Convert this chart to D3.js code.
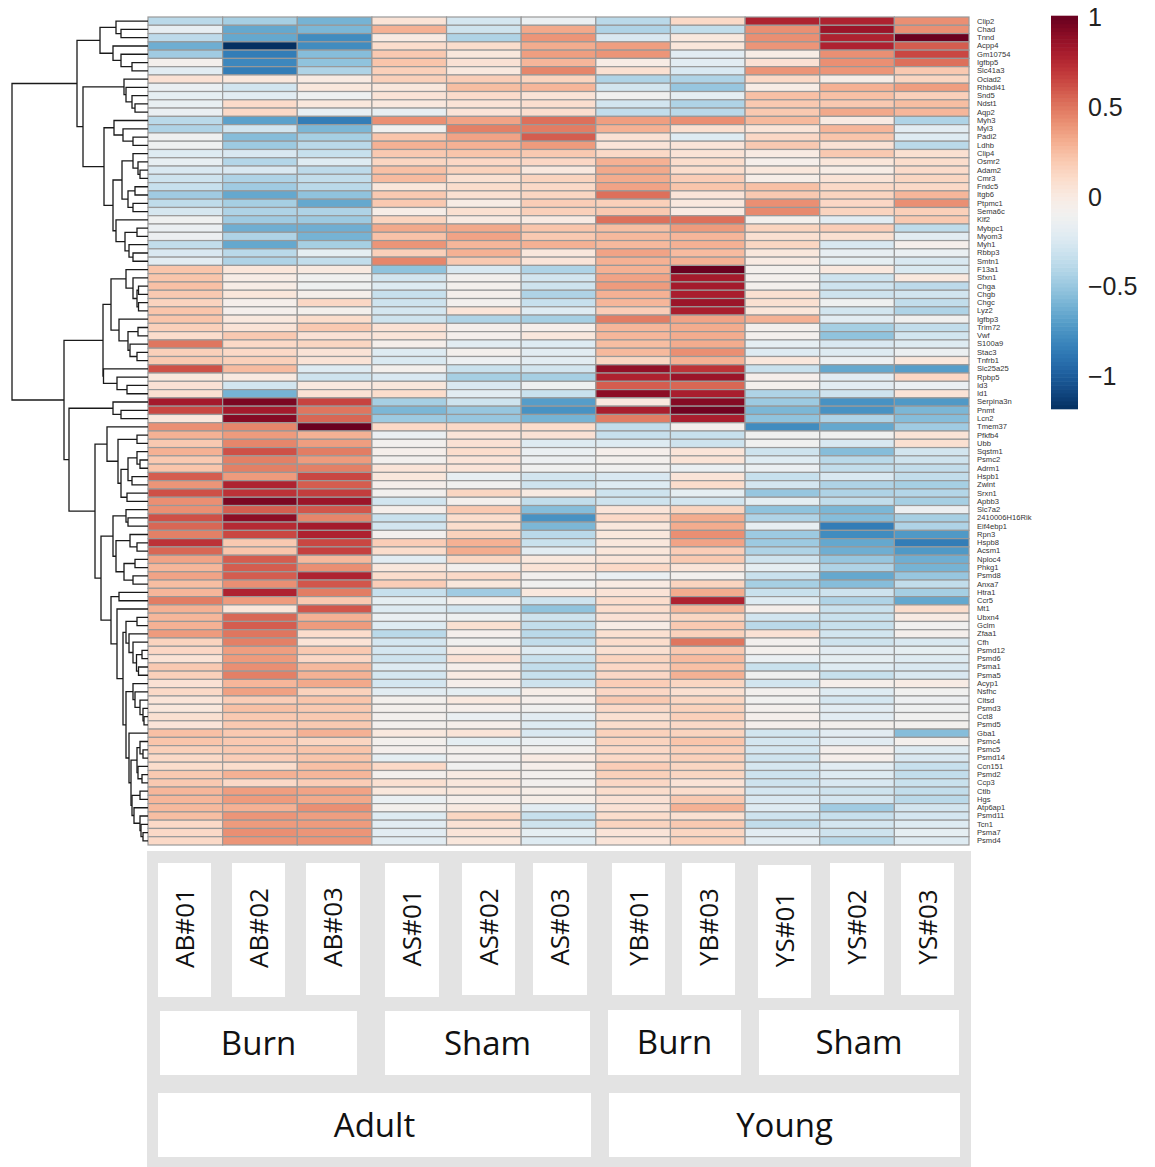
<!DOCTYPE html>
<html>
<head>
<meta charset="utf-8">
<script src="https://cdn.jsdelivr.net/npm/d3@7"></script>
<style>
  body { margin: 0; background: #fff; }
</style>
</head>
<body>
<div id="chart"></div>
<script>
var samples = ["AB#01","AB#02","AB#03","AS#01","AS#02","AS#03","YB#01","YB#03","YS#01","YS#02","YS#03"];

var genes = ["Clip2","Chad","Tnnd","Acpp4","Gm10754","Igfbp5","Slc41a3","Ociad2","Rhbdl41","Snd5",
  "Ndst1","Aqp2","Myh3","Myl3","Padi2","Ldhb","Clip4","Osmr2","Adam2","Cmr3",
  "Fndc5","Itgb6","Ptpmc1","Sema6c","Klf2","Mybpc1","Myom3","Myh1","Rbbp3","Smtn1",
  "F13a1","Sfxn1","Chga","Chgb","Chgc","Lyz2","Igfbp3","Trim72","Vwf","S100a9",
  "Stac3","Tnfrb1","Slc25a25","Rpbp5","Id3","Id1","Serpina3n","Pnmt","Lcn2","Tmem37",
  "Pfkfb4","Ubb","Sqstm1","Psmc2","Adrm1","Hspb1","Zwint","Srxn1","Apbb3","Slc7a2",
  "2410006H16Rik","Eif4ebp1","Rpn3","Hspb8","Acsm1","Nploc4","Phkg1","Psmd8","Anxa7","Htra1",
  "Ccr5","Mt1","Ubxn4","Gclm","Zfaa1","Cfh","Psmd12","Psmd6","Psma1","Psma5",
  "Acyp1","Nsfhc","Cltsd","Psmd3","Cct8","Psmd5","Gba1","Psmc4","Psmc5","Psmd14",
  "Ccn151","Psmd2","Ccp3","Ctlb","Hgs","Atp6ap1","Psmd11","Tcn1","Psma7","Psmd4"];

// one row per gene, one column per sample
var rowValues = [
  [-0.38,-0.45,-0.6,0.06,-0.27,-0.15,-0.38,0.12,0.78,0.78,0.42],
  [-0.17,-0.65,-0.58,0.3,-0.3,0.33,-0.42,-0.35,0.42,0.85,0.42],
  [-0.37,-0.65,-0.78,0,-0.42,0.4,-0.25,0.02,0.42,0.78,1],
  [-0.62,-1.18,-0.78,0.1,0.1,0.32,0.37,0.04,0.4,0.78,0.58],
  [-0.47,-0.85,-0.55,0.2,0.03,0.37,0.4,-0.2,-0.02,0.42,0.65],
  [-0.07,-0.8,-0.52,0.22,0.07,0.28,-0.02,-0.2,0.07,0.42,0.52],
  [-0.2,-0.85,-0.42,0.17,0.02,0.45,0.08,-0.25,0.4,0.4,0.2],
  [0.07,0.03,0,0.17,0.18,0.15,-0.42,-0.42,0.12,-0.03,0.14],
  [-0.15,-0.28,0.03,0.03,0.25,0.28,-0.28,-0.5,-0.02,0.3,0.37],
  [-0.18,-0.2,-0.12,0.06,0.11,0.06,-0.1,-0.18,0.24,0.24,0.17],
  [-0.16,0.11,0.03,0.02,0.06,0.09,-0.28,-0.42,0.2,0.2,0.25],
  [-0.15,0.12,-0.17,-0.17,0.05,0.09,-0.35,-0.38,0.2,0.33,0.28],
  [-0.38,-0.68,-0.85,0.42,0.35,0.52,0.37,0.42,0.27,0,-0.42],
  [-0.42,-0.28,-0.58,-0.1,0.47,0.48,0.3,0.08,0.05,0.28,-0.2],
  [-0.12,-0.55,-0.45,0.22,0.35,0.58,0.07,-0.22,0.13,0.22,-0.22],
  [-0.12,-0.48,-0.38,0.3,0.3,0.38,0.05,0.05,0.2,0.07,-0.38],
  [-0.22,-0.25,-0.33,0.2,0.22,0.2,0.12,0.06,0,0.2,0.08],
  [-0.17,-0.4,-0.22,0.14,0.13,0.13,0.3,0.1,-0.05,0.04,0.1],
  [-0.25,-0.25,-0.37,0.24,0.16,0.02,0.33,0.1,0.03,-0.02,0.11],
  [-0.3,-0.42,-0.35,0.26,0.08,0.15,0.32,0.18,-0.03,0.06,0.14],
  [-0.33,-0.47,-0.38,0.04,0.1,0.12,0.35,0.22,0.24,0.12,0.12],
  [-0.47,-0.65,-0.52,0.2,0.08,0.14,0.52,0.05,0.2,0.15,0.28],
  [-0.36,-0.45,-0.65,0.2,-0.02,0.18,0.17,0.02,0.42,0.13,0.42],
  [-0.26,-0.42,-0.42,-0.03,0.08,0.17,0.2,0,0.44,0.15,0.17],
  [-0.12,-0.47,-0.48,0.15,0,0,0.52,0.52,-0.07,-0.2,0.2],
  [-0.15,-0.62,-0.62,0.33,0.33,0.22,0.25,0.38,0.15,0.18,-0.36],
  [-0.13,-0.42,-0.6,0.23,0.35,0.2,0.27,0.28,0.08,0.08,-0.2],
  [-0.35,-0.65,-0.45,0.4,0.28,0.3,0.27,0.3,0.14,-0.25,-0.05],
  [-0.25,-0.38,-0.18,0.17,0.3,0.03,0.35,0.26,0.03,-0.17,-0.15],
  [-0.2,-0.42,-0.35,0.45,0.2,0.05,0.3,0.3,0,-0.18,-0.25],
  [0.22,0.04,0.01,-0.52,-0.25,-0.42,0.3,1,-0.07,0.02,-0.24],
  [0.22,-0.02,-0.1,-0.28,-0.08,-0.28,0.35,0.82,-0.07,-0.3,0.02],
  [0.24,-0.02,-0.12,-0.22,-0.07,-0.3,0.38,0.82,-0.07,-0.3,-0.37],
  [0.2,0.04,-0.05,-0.33,-0.06,-0.42,0.3,0.8,0.08,-0.3,-0.28],
  [0.15,-0.05,0.13,-0.3,-0.08,-0.33,0.28,0.85,0.08,-0.12,-0.35],
  [0.22,-0.06,-0.07,-0.27,0.05,-0.22,0.18,0.8,0.04,-0.28,-0.42],
  [0.22,0.02,0.1,-0.3,-0.42,-0.45,0.48,0.35,0.3,-0.2,-0.1],
  [0.17,0.06,0.2,0.07,-0.06,-0.05,0.28,0.32,-0.07,-0.45,-0.35],
  [0.1,0.2,0.07,0.05,-0.06,0.03,0.28,0.32,-0.07,-0.52,-0.28],
  [0.5,0.12,0.14,-0.05,-0.2,-0.22,0.25,0.32,-0.18,-0.25,-0.22],
  [0.17,0.12,0.06,-0.22,-0.07,-0.2,0.27,0.42,-0.22,-0.22,-0.14],
  [0.2,0.17,0.06,-0.24,-0.13,-0.2,0.14,0.3,0.03,-0.13,0.03],
  [0.62,0.26,-0.22,-0.07,-0.32,-0.28,0.88,0.72,-0.32,-0.65,-0.7],
  [0.03,0.01,-0.3,-0.25,-0.45,-0.45,0.78,0.85,-0.05,-0.2,0.13],
  [0.07,-0.28,0.02,0.03,-0.25,-0.12,0.58,0.55,-0.07,-0.2,-0.15],
  [0.08,-0.6,0.07,0.1,-0.2,-0.32,0.9,0.8,-0.42,-0.3,0.06],
  [0.82,0.95,0.66,-0.45,-0.3,-0.7,0.02,0.92,-0.48,-0.75,-0.72],
  [0.65,0.82,0.5,-0.58,-0.5,-0.75,0.8,0.98,-0.58,-0.75,-0.58],
  [0.03,0.92,0.55,-0.48,-0.5,-0.6,0.48,0.8,-0.52,-0.42,-0.55],
  [0.42,0.45,1,0.12,0.12,0.1,-0.35,-0.07,-0.78,-0.65,-0.47],
  [0.3,0.38,0.3,-0.15,0.05,0.07,-0.33,-0.33,-0.1,-0.1,0.06],
  [0.2,0.45,0.37,-0.08,0.07,-0.22,-0.22,-0.3,-0.1,-0.25,0.08],
  [0.3,0.62,0.48,-0.05,0.1,-0.15,-0.05,0.05,-0.3,-0.55,-0.28],
  [0.2,0.47,0.38,-0.08,0.05,-0.13,-0.07,0.06,-0.22,-0.38,-0.3],
  [0.22,0.47,0.47,0.05,0.05,-0.1,-0.1,-0.15,-0.15,-0.35,-0.35],
  [0.58,0.38,0.65,0.03,-0.17,-0.28,-0.25,0.05,-0.33,-0.25,-0.35],
  [0.4,0.78,0.58,-0.05,-0.1,-0.3,-0.22,0.1,-0.27,-0.42,-0.45],
  [0.62,0.72,0.68,-0.08,0.14,0,-0.3,-0.18,-0.5,-0.42,-0.4],
  [0.42,0.95,0.85,-0.28,-0.07,-0.35,-0.3,-0.28,-0.18,-0.35,-0.45],
  [0.42,0.58,0.6,-0.05,0.2,-0.55,0.05,0.15,-0.52,-0.58,-0.13],
  [0.62,0.9,0.45,-0.32,0.1,-0.75,0.12,0.32,-0.42,-0.55,-0.45],
  [0.55,0.75,0.82,-0.28,0.1,-0.58,0.03,0.32,-0.17,-0.85,-0.42],
  [0.47,0.65,0.78,-0.08,0.16,-0.38,0.03,0.42,-0.48,-0.78,-0.72],
  [0.72,0.2,0.65,0.18,0.3,-0.32,0.03,0.35,-0.48,-0.65,-0.85],
  [0.55,0.22,0.67,0.1,0.32,-0.2,0.04,0.18,-0.42,-0.62,-0.72],
  [0.35,0.58,0.27,-0.2,0.14,0.02,0.05,0.2,-0.3,-0.5,-0.62],
  [0.28,0.58,0.42,0.03,-0.08,0.06,0.12,0.05,-0.18,-0.42,-0.6],
  [0.35,0.58,0.78,0.1,0.12,-0.08,-0.15,-0.08,-0.32,-0.65,-0.5],
  [0.25,0.42,0.6,0.18,0.03,-0.1,0,0.15,-0.45,-0.55,-0.35],
  [0.28,0.78,0.48,-0.33,-0.47,0.02,0.06,0.32,-0.32,-0.3,-0.45],
  [0.48,0.38,0.2,-0.18,-0.07,-0.3,0.1,0.78,-0.22,-0.42,-0.65],
  [0.3,0.04,0.6,-0.22,-0.28,-0.52,0.1,0.27,-0.05,-0.32,0.1],
  [0.28,0.55,0.3,-0.15,-0.12,-0.3,0.07,0.14,-0.28,-0.32,0],
  [0.3,0.58,0.38,-0.22,0.08,-0.35,-0.02,0.2,-0.38,-0.33,-0.1],
  [0.38,0.5,0.1,-0.38,-0.06,-0.38,0.08,0.16,0.07,-0.28,-0.06],
  [0.15,0.47,0.06,-0.27,-0.1,-0.35,0.1,0.5,-0.08,-0.3,-0.25],
  [0.13,0.37,0.2,-0.27,0,-0.22,0.08,0.2,-0.07,-0.2,-0.18],
  [0.06,0.38,0.13,-0.3,0.07,-0.32,0.15,0.26,-0.15,-0.18,-0.22],
  [0.2,0.42,0.27,-0.22,-0.05,-0.35,0.13,0.24,-0.32,-0.22,-0.25],
  [0.17,0.47,0.3,-0.27,0,-0.33,0.13,0.3,-0.1,-0.33,-0.25],
  [0.07,0.28,0.33,-0.27,-0.05,-0.3,0.18,0.14,-0.28,-0.05,-0.01],
  [0.12,0.36,0.16,-0.2,-0.18,-0.03,0.13,0.08,-0.08,-0.22,-0.1],
  [0.05,0.18,0.22,-0.07,0.02,-0.05,0.2,0.14,-0.1,-0.27,-0.13],
  [0.03,0.24,0.2,-0.07,-0.05,-0.1,0.12,0.16,-0.07,-0.2,-0.12],
  [0.08,0.2,0.2,-0.08,-0.15,-0.2,0.08,0.17,-0.06,-0.2,-0.1],
  [0.05,0.2,0.2,-0.07,-0.05,-0.22,0.1,0.12,-0.06,-0.07,-0.08],
  [0.24,0.2,0.3,0.02,0.05,-0.25,0.16,0.15,-0.28,-0.2,-0.55],
  [0.22,0.2,0.14,-0.07,-0.18,-0.15,0.15,0.22,-0.27,-0.2,-0.07],
  [0.17,0.2,0.22,-0.06,-0.07,-0.08,0.12,0.17,-0.27,-0.06,-0.22],
  [0.12,0.18,0.22,-0.18,-0.08,0,0.12,0.17,-0.3,-0.05,-0.25],
  [0.1,0.1,0.24,0.12,-0.1,-0.05,0.18,0.14,-0.26,-0.2,-0.33],
  [0.2,0.3,0.28,-0.07,0,-0.08,0.17,0.14,-0.3,-0.22,-0.35],
  [0.2,0.12,0.18,0.08,0.03,-0.08,0.13,0.06,-0.3,-0.25,-0.32],
  [0.28,0.37,0.35,0.03,0.03,-0.03,0.1,0.1,-0.27,-0.3,-0.35],
  [0.28,0.38,0.33,-0.15,-0.05,-0.03,0.07,0.2,-0.25,-0.27,-0.38],
  [0.27,0.3,0.42,-0.07,0.01,-0.2,0.07,0.3,-0.22,-0.47,-0.28],
  [0.25,0.4,0.37,-0.22,0.14,-0.33,0.1,0.08,-0.3,-0.33,-0.27],
  [0.12,0.38,0.38,-0.2,0.07,-0.3,0.15,0.2,-0.35,-0.27,-0.22],
  [0.12,0.42,0.4,-0.2,0.05,-0.18,0.05,0.14,-0.2,-0.3,-0.18],
  [0.12,0.4,0.4,-0.2,0.03,-0.22,0.05,0.16,-0.2,-0.38,-0.22]
];

// row clustering as [merge height, child, child], a bare number is a row index
var rowTree = [136,
  [71,
    [48, [32, 0, [27, 1, 2]], [35, 3, [27, 4, [16, 5, 6]]]],
    [65,
      [24, 7, [22, 8, [16, 9, [13, 10, 11]]]],
      [44,
        [34, 12, [25, 13, [15, 14, 15]]],
        [35,
          [26, [15, 16, [10, 17, [8, 18, 19]]], [20, [13, 20, 21], [15, 22, 23]]],
          [32, 24, [23, [11, 25, 26], [19, 27, [15, 28, 29]]]]
        ]
      ]
    ]
  ],
  [84,
    [45,
      [37,
        [22, 30, [15, 31, [11, [9.5, 32, 33], [9.5, 34, 35]]]],
        [29, 36, [20, [10, 37, 38], [18, 39, [11, 40, 41]]]]
      ],
      [44.5, 42, [31, 43, [21, 44, 45]]]
    ],
    [79,
      [35, 46, [27, 47, 48]],
      [53,
        [41, 49, [30, [11, 50, 51], [27, [20, [11, 52, [8, 53, 54]], [16, 55, 56]], [21, 57, 58]]]],
        [47,
          [35,
            [22, 59, [20, 60, 61]],
            [32, [18, 62, [11, 63, 64]], [24, [13, 65, 66], [15, 67, 68]]]
          ],
          [37,
            [29, 69, 70],
            [31, 71, [25,
              [22, [11, 72, 73], [19, 74, [15, 75, [11.5, [6, 76, 77], [9.5, 78, 79]]]]],
              [22,
                [15, 80, [13, 81, [8, 82, [5, 83, [4, 84, 85]]]]],
                [19, 86, [17,
                  [11, [8, 87, [5, 88, 89]], [10, 90, [6, 91, 92]]],
                  [16, [8, 93, 94], [14, 95, [8, 96, [7, 97, [5, 98, 99]]]]]
                ]]
              ]
            ]]
          ]
        ]
      ]
    ]
  ]
];

var legendTicks = [-1, -0.5, 0, 0.5, 1];

// the hand placed boxes under the heatmap
var sampleBoxes = [[158,863,53,134],[232,863,53,134],[306,863,54,132],[385,863,54,134],[462,863,53,132],
  [533,863,54,132],[612,863,53,132],[682,863,53,132],[758,865,53,133],[830,863,54,132],[901,863,53,132]];
var conditionLabels = ["Burn","Sham","Burn","Sham"];
var conditionBoxes = [[160,1011,197,64],[385,1011,205,64],[608,1010,133,65],[759,1010,200,65]];
var ageLabels = ["Adult","Young"];
var ageBoxes = [[158,1093,433,64],[609,1093,351,64]];

var width = 1155, height = 1167;

var svg = d3.select("#chart")
  .append("svg")
    .attr("width", width)
    .attr("height", height)
    .style("display", "block");

var x = d3.scaleBand().domain(samples).range([148, 969]);
var y = d3.scaleBand().domain(d3.range(genes.length)).range([17, 845]);
var legendY = d3.scaleLinear().domain([-1.18, 1.01]).range([409, 16]);
var color = d3.scaleSequential(function(t) { return d3.interpolateRdBu(1 - t); }).domain(legendY.domain());
var treeX = d3.scaleLinear().domain([0, 136]).range([148, 12]);

// heatmap cells
var rows = svg.append("g")
  .selectAll("g")
  .data(rowValues)
  .join("g");

rows.selectAll("rect")
  .data(function(d, i) {
    return d.map(function(v, j) { return {row: i, sample: samples[j], value: v}; });
  })
  .join("rect")
    .attr("x", function(d) { return x(d.sample); })
    .attr("y", function(d) { return y(d.row); })
    .attr("width", x.bandwidth())
    .attr("height", y.bandwidth())
    .attr("fill", function(d) { return color(d.value); })
    .attr("stroke", "#999")
    .attr("stroke-width", 1.2);

// gene labels
var geneAxis = svg.append("g")
  .attr("transform", "translate(977,0)")
  .call(d3.axisRight(y).tickSize(0).tickPadding(0).tickFormat(function(i) { return genes[i]; }));
geneAxis.select(".domain").remove();
geneAxis.selectAll("text")
  .attr("font-family", "Liberation Sans")
  .attr("font-size", 7.6)
  .attr("fill", "#333");

// dendrogram
var root = d3.hierarchy(rowTree, function(d) { return Array.isArray(d) ? d.slice(1) : null; });
root.eachAfter(function(n) {
  if (n.children) {
    n.h = n.data[0];
    n.yPos = d3.mean(n.children, function(c) { return c.yPos; });
  } else {
    n.h = 0;
    n.yPos = y(n.data) + y.bandwidth() / 2;
  }
});

svg.append("g")
  .selectAll("path")
  .data(root.descendants().filter(function(n) { return n.children; }))
  .join("path")
    .attr("fill", "none")
    .attr("stroke", "#1a1a1a")
    .attr("stroke-width", 1.3)
    .attr("d", function(n) {
      var a = n.children[0], b = n.children[1];
      return "M" + treeX(a.h) + "," + a.yPos + "H" + treeX(n.h) + "V" + b.yPos + "H" + treeX(b.h);
    });

// colour legend
var steps = d3.range(100).map(function(i) { return legendY.domain()[0] + (i + 0.5) * 2.19 / 100; });
svg.append("g")
  .selectAll("rect")
  .data(steps)
  .join("rect")
    .attr("x", 1051)
    .attr("y", function(d) { return legendY(d) - 393 / 200 - 0.3; })
    .attr("width", 27)
    .attr("height", 393 / 100 + 0.6)
    .attr("fill", function(d) { return color(d); });

var legendAxis = svg.append("g")
  .attr("transform", "translate(1078,0)")
  .call(d3.axisRight(legendY).tickValues(legendTicks).tickSize(0).tickPadding(10).tickFormat(d3.format("")));
legendAxis.select(".domain").remove();
legendAxis.selectAll("text")
  .attr("font-family", "Liberation Sans")
  .attr("font-size", 25)
  .attr("fill", "#222");

// annotation panel
svg.append("rect")
  .attr("x", 147).attr("y", 851)
  .attr("width", 824).attr("height", 316)
  .attr("fill", "#e3e3e3");

function addBoxes(labels, boxes, fontSize, rotate) {
  var g = svg.append("g")
    .selectAll("g")
    .data(labels)
    .join("g");
  g.append("rect")
    .attr("x", function(d, i) { return boxes[i][0]; })
    .attr("y", function(d, i) { return boxes[i][1]; })
    .attr("width", function(d, i) { return boxes[i][2]; })
    .attr("height", function(d, i) { return boxes[i][3]; })
    .attr("fill", "#fff");
  g.append("text")
    .attr("transform", function(d, i) {
      var cx = boxes[i][0] + boxes[i][2] / 2, cy = boxes[i][1] + boxes[i][3] / 2;
      return "translate(" + cx + "," + (rotate ? cy - 2 : cy) + ")" + (rotate ? " rotate(-90)" : "");
    })
    .attr("text-anchor", "middle")
    .attr("dy", "0.36em")
    .attr("font-family", "Open Sans")
    .attr("font-size", fontSize)
    .attr("fill", "#111")
    .text(function(d) { return d; });
}

addBoxes(samples, sampleBoxes, 26, true);
addBoxes(conditionLabels, conditionBoxes, 33, false);
addBoxes(ageLabels, ageBoxes, 33, false);
</script>
</body>
</html>
